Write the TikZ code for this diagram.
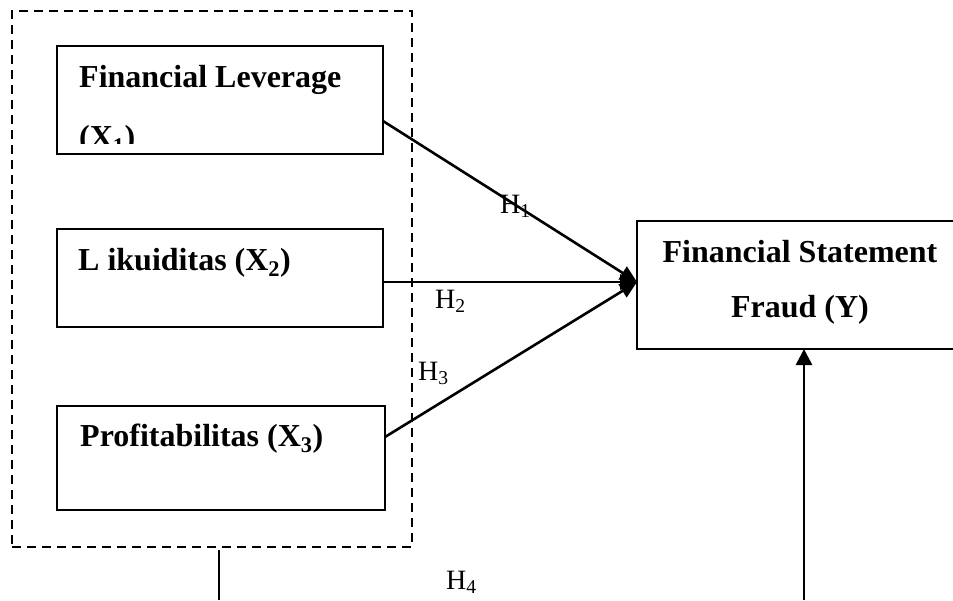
\documentclass[tikz,border=0pt]{standalone}
\usepackage{fontspec}
\setmainfont{Liberation Serif}
\usetikzlibrary{arrows.meta}
\begin{document}
\begin{tikzpicture}[x=1pt,y=-1pt,
  boxnode/.style={draw,line width=1.8pt,inner sep=0pt,outer sep=0pt,anchor=north west},
  bt/.style={font=\fontsize{32}{38}\selectfont\bfseries,anchor=base west,inner sep=0pt},
  bc/.style={font=\fontsize{32}{38}\selectfont\bfseries,anchor=base,inner sep=0pt},
  ht/.style={font=\fontsize{28}{34}\selectfont,anchor=base west,inner sep=0pt},
  conn/.style={line width=2.6pt,-{Triangle[length=17pt,width=15pt]}},
  plain/.style={line width=2.2pt}]
\clip (0,0) rectangle (953,600);
\fill[white] (0,0) rectangle (953,600);
% group
\node[boxnode,dashed,dash pattern=on 9pt off 6pt,line width=2.2pt,minimum width=400pt,minimum height=536pt] (grp) at (12,11) {};
% boxes
\node[boxnode,minimum width=326pt,minimum height=108pt] (x1) at (57,46) {};
\node[boxnode,minimum width=326pt,minimum height=98pt] (x2) at (57,229) {};
\node[boxnode,minimum width=328pt,minimum height=104pt] (x3) at (57,406) {};
\node[boxnode,minimum width=330pt,minimum height=128pt] (y) at (637,221) {};
% texts
\node[bt] (t1a) at (79,87) {Financial Leverage};
\begin{scope}
\clip (60,100) rectangle (380,143);
\node[bt] (t1b) at (79,147) {(X\textsubscript{1})};
\end{scope}
\node[bt] (t2) at (78,270) {L ikuiditas (X\textsubscript{2})};
\node[bt] (t3) at (80,446) {Profitabilitas (X\textsubscript{3})};
\node[bc] (ty1) at (800,262) {Financial Statement};
\node[bc] (ty2) at (800,317) {Fraud (Y)};
% connectors
\coordinate (tip) at ([yshift=3pt]y.west);
\draw[conn] ([yshift=-21pt]x1.east) -- (tip);
\draw[conn] (x2.east |- tip) -- (tip);
\draw[conn] ([yshift=21pt]x3.east) -- (tip);
\coordinate (yb) at (804,600);
\draw[conn,-{Triangle[length=16pt,width=16pt]}] (yb) -- (y.south -| yb);
\coordinate (lb) at (219,600);
\draw[plain] ([yshift=-3pt]grp.south -| lb) -- (lb);
% labels
\node[ht] (h1) at (500,213) {H\textsubscript{1}};
\node[ht] (h2) at (435,308) {H\textsubscript{2}};
\node[ht] (h3) at (418,380) {H\textsubscript{3}};
\node[ht] (h4) at (446,589) {H\textsubscript{4}};
\end{tikzpicture}
\end{document}
